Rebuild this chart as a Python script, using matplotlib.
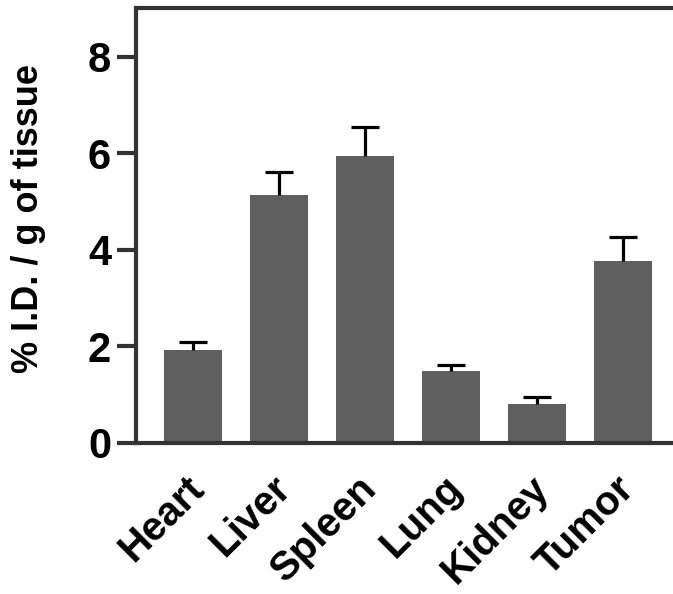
import numpy as np
import matplotlib.pyplot as plt
import matplotlib.transforms as mtransforms

plt.rcParams['font.family'] = ['Liberation Sans', 'DejaVu Sans']
plt.rcParams['font.weight'] = 'bold'

# biodistribution data (% ID / g)
organs = ['Heart', 'Liver', 'Spleen', 'Lung', 'Kidney', 'Tumor']
means = [1.93, 5.14, 5.95, 1.49, 0.81, 3.77]
errors = [0.16, 0.48, 0.60, 0.13, 0.14, 0.50]

fig = plt.figure(figsize=(6.73, 5.94), dpi=100)
ax = fig.add_axes([0.2021, 0.2547, 0.8083, 0.7310])

x = np.arange(len(organs))
m = np.array(means)
top = m + np.array(errors)
ax.bar(x, m, width=0.67, color='#5f5f5f', zorder=2)
# upper error bars only (stem + cap)
ax.vlines(x, m, top, color='black', linewidth=2.3, zorder=3)
ax.hlines(top, x - 0.165, x + 0.165, color='black', linewidth=2.3, zorder=3)

ax.set_xlim(-0.663, 5.66)
ax.set_ylim(0, 9)
ax.set_yticks([0, 2, 4, 6, 8])
ax.set_xticks(x)
ax.set_xticklabels(organs, rotation=45, ha='right', rotation_mode='anchor',
                   fontsize=29, fontweight='bold')
ax.tick_params(axis='x', length=0, pad=19)
ax.tick_params(axis='y', length=14, width=3, color='#333333', labelsize=30, pad=4)
for lab in ax.get_yticklabels():
    lab.set_fontweight('bold')

# nudge the rotated labels a bit to the left
shift = mtransforms.ScaledTranslation(-8 / 100, 0, fig.dpi_scale_trans)
for lab in ax.get_xticklabels():
    lab.set_transform(lab.get_transform() + shift)

for sp in ax.spines.values():
    sp.set_linewidth(3)
    sp.set_color('#333333')

ax.set_ylabel('% I.D. / g of tissue', fontsize=26, fontweight='bold')
ax.yaxis.set_label_coords(-0.165, 0.5175)

fig.savefig('out.png', dpi=100)
